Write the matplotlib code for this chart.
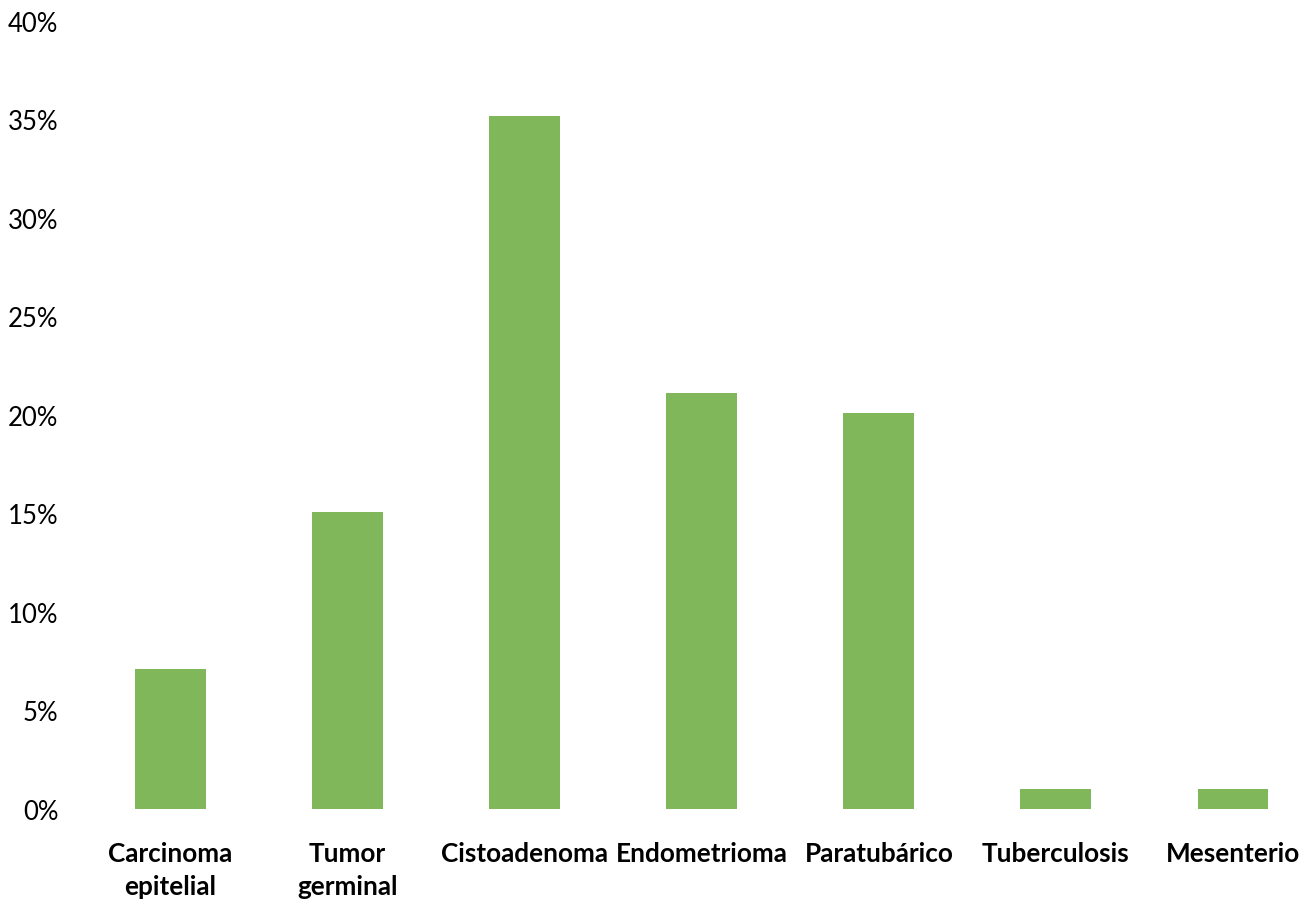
import matplotlib
matplotlib.use("Agg")
import matplotlib.pyplot as plt
from matplotlib.ticker import MultipleLocator, FuncFormatter

# --- data ---
categories = ["Carcinoma\nepitelial", "Tumor\ngerminal", "Cistoadenoma", "Endometrioma",
              "Paratubárico", "Tuberculosis", "Mesenterio"]
percent = [7.1, 15.1, 35.2, 21.1, 20.1, 1.0, 1.0]

plt.rcParams["font.family"] = ["Lato", "DejaVu Sans"]

fig = plt.figure(figsize=(13.12, 9.12), dpi=100)
ax = fig.add_axes([82 / 1312, (912 - 810) / 912, 1 - 82 / 1312, (810 - 22) / 912])

x = list(range(len(categories)))
ax.bar(x, percent, width=0.4, color="#81B75B")

ax.set_ylim(0, 40)
ax.set_xlim(-0.5, 6 + (1312 - 1233) / 177)
ax.yaxis.set_major_locator(MultipleLocator(5))
ax.yaxis.set_major_formatter(FuncFormatter(lambda v, p: f"{v:.0f}%"))
ax.set_xticks(x)
ax.set_xticklabels(categories, fontweight="bold", fontsize=18.8, linespacing=1.45)

ax.tick_params(axis="y", length=0, pad=17, labelsize=18.5)
ax.tick_params(axis="x", length=0, pad=23)
for s in ax.spines.values():
    s.set_visible(False)

fig.savefig("out.png", dpi=100)
